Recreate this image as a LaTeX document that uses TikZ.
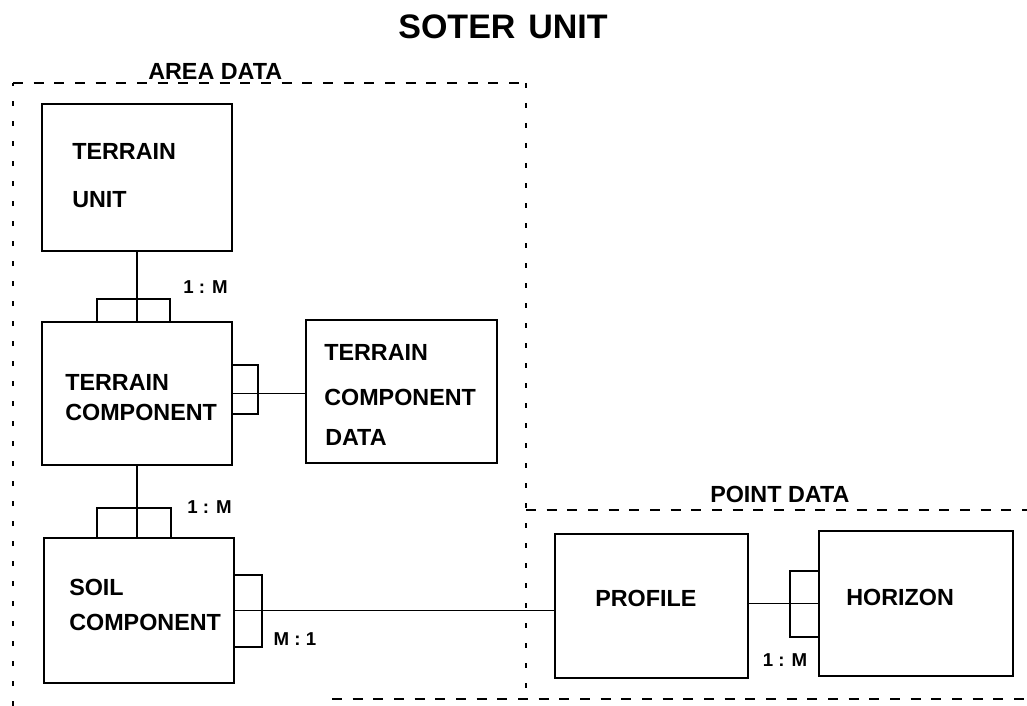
\documentclass[tikz,border=0pt]{standalone}
\usepackage{fontspec}
\setmainfont{Liberation Sans}
\usetikzlibrary{calc}
\begin{document}
\begin{tikzpicture}[x=0.75pt,y=-0.75pt,
  box/.style={draw,line width=1pt,inner sep=0pt,outer sep=0pt},
  conn/.style={line width=1pt},
  txt/.style={inner sep=0pt,anchor=west,font=\bfseries\fontsize{17.5}{20}\selectfont},
  lbl/.style={inner sep=0pt,font=\bfseries\fontsize{14}{16}\selectfont},
  grp/.style={inner sep=0pt,anchor=base west,font=\bfseries\fontsize{17.5}{20}\selectfont},
  hdash/.style={line width=1.3pt,dash pattern=on 7.5pt off 8pt},
  vdash/.style={line width=1.3pt,dash pattern=on 4pt off 11pt}]
\useasboundingbox (0,0) rectangle (1027,706);
% title
\node[inner sep=0pt,font=\bfseries\fontsize{25.5}{28}\selectfont] (title) at (503,27) {SOTER\hspace{0.1em} UNIT};
% group frames
\coordinate (aBL) at (13,706);
\coordinate (aTL) at (13,83);
\coordinate (aTR) at (526,83);
\coordinate (aBR) at (526,699);
\coordinate (bS) at (332,699);
\coordinate (bE) at (1027,699);
\coordinate (pS) at (526,510);
\coordinate (pE) at (1027,510);
\draw[vdash] (aBL) -- (aTL);
\draw[hdash] (aTL) -- (aTR);
\draw[vdash] (aTR) -- (aBR);
\draw[hdash] (bS) -- (bE);
\draw[hdash] (pS) -- (pE);
\node[grp] (areadata) at (148,80) {AREA DATA};
\node[grp] (pointdata) at (710,502) {POINT DATA};
% boxes
\node[box,minimum width=142.5pt,minimum height=110.25pt] (tu) at (137,177.5) {};
\node[box,minimum width=142.5pt,minimum height=107.25pt] (tc) at (137,393.5) {};
\node[box,minimum width=143.25pt,minimum height=107.25pt] (tcd) at (401.5,391.5) {};
\node[box,minimum width=142.5pt,minimum height=108.75pt] (sc) at (139,610.5) {};
\node[box,minimum width=144.75pt,minimum height=108pt] (pr) at (651.5,606) {};
\node[box,minimum width=145.5pt,minimum height=108.75pt] (hz) at (916,603.5) {};
% box texts
\node[txt] (tu1) at (72,151) {TERRAIN};
\node[txt] (tu2) at (72,200) {UNIT};
\node[txt] (tc1) at (65,382) {TERRAIN};
\node[txt] (tc2) at (65,412) {COMPONENT};
\node[txt] (tcd1) at (324,352) {TERRAIN};
\node[txt] (tcd2) at (324,397) {COMPONENT};
\node[txt] (tcd3) at (325,437) {DATA};
\node[txt] (sc1) at (69,587) {SOIL};
\node[txt] (sc2) at (69,622) {COMPONENT};
\node[txt] (pr1) at (595,598) {PROFILE};
\node[txt] (hz1) at (846,597) {HORIZON};
% connectors
\draw[conn] (tu.south) -- (tc.north);
\draw[conn] (tc.east) -- (tc.east -| tcd.west);
\draw[conn] (tc.south) -- (tc.south |- sc.north);
\draw[conn] (sc.east) -- (sc.east -| pr.west);
\draw[conn] (hz.west) -- (hz.west -| pr.east);
% cardinality brackets
\draw[conn] ($(tc.north)+(-40,0)$) -- ++(0,-23) -- ++(73,0) -- ++(0,23);
\draw[conn] ($(tc.east)+(0,-28.5)$) -- ++(26,0) -- ++(0,49) -- ++(-26,0);
\draw[conn] ($(sc.north)+(-42,0)$) -- ++(0,-30) -- ++(74,0) -- ++(0,30);
\draw[conn] ($(sc.east)+(0,-35.5)$) -- ++(28,0) -- ++(0,72) -- ++(-28,0);
\draw[conn] ($(hz.west)+(0,-32.5)$) -- ++(-29,0) -- ++(0,66) -- ++(29,0);
% labels
\node[lbl] (l1) at (205.5,287) {1 : M};
\node[lbl] (l2) at (209.5,507) {1 : M};
\node[lbl] (l3) at (295,639) {M : 1};
\node[lbl] (l4) at (785,660) {1 : M};
\end{tikzpicture}
\end{document}
